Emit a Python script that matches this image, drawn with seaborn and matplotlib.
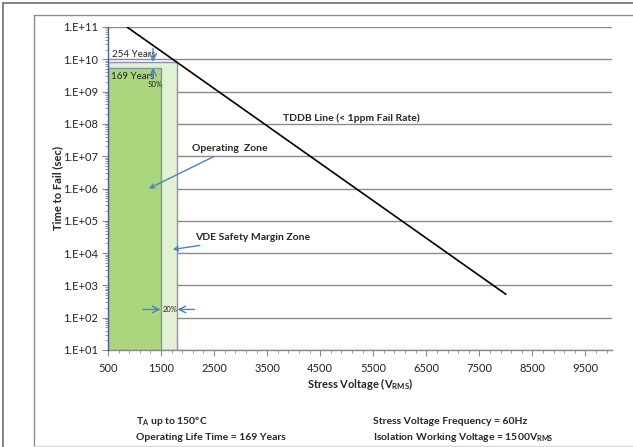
import numpy as np
import pandas as pd
import matplotlib
matplotlib.use("Agg")
import matplotlib.pyplot as plt
from matplotlib.lines import Line2D
from matplotlib.ticker import FixedLocator, FuncFormatter, LogLocator, NullFormatter
import seaborn as sns

# TDDB line (< 1 ppm fail rate): stress voltage (V_RMS) vs time to fail (s)
tddb_voltage = [857, 8000]
tddb_time = [1.0e11, 5.3e2]

# Zones: operating zone up to the working voltage, VDE margin +20 %
zone_names = ["VDE Safety Margin Zone", "Operating Zone"]
zone_start = [500, 500]
zone_end = [1800, 1500]
zone_life_years = [254, 169]
seconds_per_year = 365.25 * 24 * 3600

x_ticks = [500, 1500, 2500, 3500, 4500, 5500, 6500, 7500, 8500, 9500]
y_ticks = [1e1, 1e2, 1e3, 1e4, 1e5, 1e6, 1e7, 1e8, 1e9, 1e10, 1e11]

sns.set_theme(style="white")
plt.rcParams["font.family"] = ["Lato", "DejaVu Sans"]

fig = plt.figure(figsize=(6.33, 4.47), dpi=100)
ax = fig.add_axes([108 / 633, 97 / 447, 504 / 633, 323 / 447])

zone_colors = ["#e2f0d4", "#acd67e"]
for name, x0, x1, yrs, col in zip(zone_names, zone_start, zone_end, zone_life_years, zone_colors):
    ax.bar(x0, yrs * seconds_per_year - 10, width=x1 - x0, bottom=10, align="edge",
           color=col, edgecolor="#8594a8", linewidth=1.0, zorder=2)

df = pd.DataFrame({"voltage": tddb_voltage, "time": tddb_time})
sns.lineplot(data=df, x="voltage", y="time", ax=ax, color="black", linewidth=1.2, zorder=4)

ax.set_yscale("log")
ax.set_xlim(500, 10000)
ax.set_ylim(1e1, 1e11)

ax.xaxis.set_major_locator(FixedLocator(x_ticks))
ax.xaxis.set_minor_locator(FixedLocator(np.arange(500, 10001, 200)))
ax.yaxis.set_major_locator(FixedLocator(y_ticks))
ax.yaxis.set_minor_locator(LogLocator(base=10, subs=np.arange(2, 10), numticks=20))
ax.yaxis.set_minor_formatter(NullFormatter())
ax.yaxis.set_major_formatter(FuncFormatter(lambda v, p: f"1.E+{int(round(np.log10(v))):02d}"))

ax.grid(axis="y", which="major", color="#8a8a8a", linewidth=1.0, zorder=1)
ax.set_axisbelow(True)
for s in ["top", "right"]:
    ax.spines[s].set_visible(False)
ax.spines["left"].set_color("#4d5f99")
ax.spines["left"].set_linewidth(1.0)
ax.spines["bottom"].set_color("#8a8a8a")
ax.spines["bottom"].set_linewidth(1.0)
ax.spines["left"].set_zorder(5)

ax.tick_params(axis="both", which="major", direction="out", length=4, width=0.8,
               color="#8a8a8a", labelsize=8, labelcolor="#222222", bottom=True, left=True)
ax.tick_params(axis="both", which="minor", direction="out", length=2, width=0.6,
               color="#8a8a8a", bottom=True, left=True)
ax.tick_params(axis="x", pad=5)
ax.tick_params(axis="y", pad=3)

ax.set_xlabel("Stress Voltage (V$_\\mathregular{RMS}$)", fontsize=8, fontweight="bold", labelpad=2)
ax.set_ylabel("Time to Fail (sec)", fontsize=8, fontweight="bold", labelpad=0)

blue = "#4f81bd"
arrow = dict(arrowstyle="->", color=blue, lw=1.0, shrinkA=0, shrinkB=0)

ax.text(3790, 1.5e8, "TDDB Line (< 1ppm Fail Rate)", fontsize=7.5, fontweight="bold",
        ha="left", va="center")
ax.annotate("Operating  Zone", xy=(1270, 1.0e6), xytext=(2080, 1.7e7), fontsize=7.5,
            fontweight="bold", ha="left", va="center", arrowprops=arrow, zorder=6)
ax.annotate("VDE Safety Margin Zone", xy=(1720, 1.3e4), xytext=(2150, 3.0e4), fontsize=7.5,
            fontweight="bold", ha="left", va="center", arrowprops=arrow, zorder=6)

top_margin = zone_life_years[0] * seconds_per_year
top_oper = zone_life_years[1] * seconds_per_year
ax.text(580, 1.45e10, f"{zone_life_years[0]} Years", fontsize=7, ha="left", va="center", color="#222222")
ax.annotate("", xy=(1350, top_margin * 1.05), xytext=(1350, 2.2e10), arrowprops=arrow, zorder=6)
ax.text(560, 3.0e9, f"{zone_life_years[1]} Years", fontsize=7, ha="left", va="center", color="#222222", zorder=6)
ax.annotate("", xy=(1350, top_oper * 1.03), xytext=(1350, 3.0e9), arrowprops=arrow, zorder=6)
ax.text(1250, 1.65e9, "50%", fontsize=5.5, ha="left", va="center", color="#222222", zorder=6)

ax.annotate("", xy=(1490, 1.8e2), xytext=(1160, 1.8e2), arrowprops=arrow, zorder=6)
ax.annotate("", xy=(1810, 1.8e2), xytext=(2130, 1.8e2), arrowprops=arrow, zorder=6)
ax.text(1530, 1.8e2, "20%", fontsize=5.5, ha="left", va="center", color="#222222", zorder=6)

# footer notes
fig.text(136 / 633, 1 - 422 / 447, "T$_\\mathregular{A}$ up to 150ºC", fontsize=7.5,
         fontweight="bold", ha="left", va="center")
fig.text(136 / 633, 1 - 437 / 447, "Operating Life Time = 169 Years", fontsize=7.5,
         fontweight="bold", ha="left", va="center")
fig.text(373 / 633, 1 - 422 / 447, "Stress Voltage Frequency = 60Hz", fontsize=7.5,
         fontweight="bold", ha="left", va="center")
fig.text(373 / 633, 1 - 437 / 447, "Isolation Working Voltage = 1500V$_\\mathregular{RMS}$",
         fontsize=7.5, fontweight="bold", ha="left", va="center")

# frame lines
def fline(x0, y0, x1, y1, color, lw):
    fig.add_artist(Line2D([x0 / 633, x1 / 633], [1 - y0 / 447, 1 - y1 / 447],
                          color=color, linewidth=lw, transform=fig.transFigure))

fline(3, 3, 633, 3, "#6e6e6e", 1.2)
fline(3, 3, 3, 447, "#6e6e6e", 1.2)
fline(34, 15, 633, 15, "#8a8a8a", 1.0)
fline(34, 15, 34, 447, "#8a8a8a", 1.0)
fline(34, 446, 633, 446, "#d8d8d8", 1.0)

fig.savefig("out.png", dpi=100)
